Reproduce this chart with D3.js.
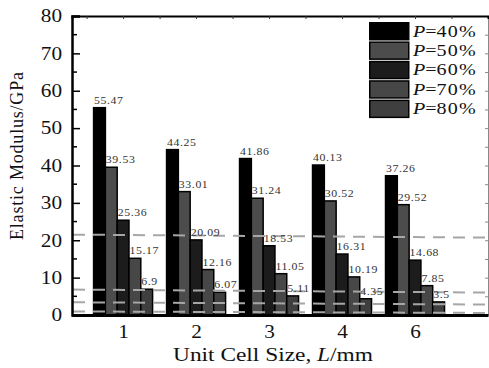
<!DOCTYPE html>
<html>
<head>
<meta charset="utf-8">
<script src="https://cdn.jsdelivr.net/npm/d3@7"></script>
<style>
  html, body { margin: 0; padding: 0; background: #fff; }
  svg { display: block; }
</style>
</head>
<body>
<svg id="chart" width="489" height="368" font-family="Liberation Serif, Times New Roman, serif"></svg>
<script>
// Unit cell sizes (mm) along the x axis
const categories = ["1", "2", "3", "4", "6"];
// Porosity series
const seriesNames = ["40%", "50%", "60%", "70%", "80%"];
const seriesColors = ["#000000", "#4c4c4c", "#1c1c1c", "#474747", "#3f3f3f"];
// Elastic modulus (GPa), one array per porosity
const p40 = [55.47, 44.25, 41.86, 40.13, 37.26];
const p50 = [39.53, 33.01, 31.24, 30.52, 29.52];
const p60 = [25.36, 20.09, 18.53, 16.31, 14.68];
const p70 = [15.17, 12.16, 11.05, 10.19, 7.85];
const p80 = [6.9, 6.07, 5.11, 4.35, 3.5];
const seriesValues = [p40, p50, p60, p70, p80];
// Dashed reference levels (GPa) at the left and right ends of the plot
const refLevels = [[21.5, 20.7], [6.8, 6.0], [3.4, 2.8], [0.95, 0.55]];
const yTicks = [0, 10, 20, 30, 40, 50, 60, 70, 80];

const FONT = "Liberation Serif, Times New Roman, serif";
const svg = d3.select("#chart");
const plotL = 72, plotR = 488, plotT = 16, plotB = 315;

const x = d3.scaleLinear().domain([-0.7, 5]).range([plotL, plotR]);
const y = d3.scaleLinear().domain([0, 80]).range([plotB, plotT]);
const inner = d3.scaleBand().domain(seriesNames).range([-29.5, 29.5]).padding(0);

// Bars
const bars = [];
categories.forEach((c, i) => {
  seriesNames.forEach((s, k) => {
    bars.push({ i, k, v: seriesValues[k][i] });
  });
});

svg.append("g").selectAll("rect").data(bars).join("rect")
  .attr("x", d => x(d.i) + inner(seriesNames[d.k]))
  .attr("y", d => y(d.v))
  .attr("width", inner.bandwidth())
  .attr("height", d => y(0) - y(d.v))
  .attr("fill", d => seriesColors[d.k])
  .attr("stroke", "#000")
  .attr("stroke-width", 1.5);

// Dashed reference lines
svg.append("g").selectAll("line").data(refLevels).join("line")
  .attr("x1", plotL + 1).attr("x2", plotR)
  .attr("y1", d => y(d[0])).attr("y2", d => y(d[1]))
  .attr("stroke", "#a6a6a6")
  .attr("stroke-width", 2)
  .attr("stroke-dasharray", "12,8");

// Value labels
svg.append("g").attr("class", "wide").selectAll("text").data(bars).join("text")
  .attr("x", d => x(d.i) + inner(seriesNames[d.k]) + 0.5)
  .attr("y", d => y(d.v) - 4)
  .attr("font-size", 10)
  .attr("font-family", FONT)
  .attr("fill", "#333")
  .attr("letter-spacing", 0.5)
  .text(d => String(d.v));

// Left axis with inward ticks
const yAxis = d3.axisLeft(y).tickValues(yTicks).tickSize(-8).tickPadding(10).tickFormat(d3.format("d"));
const gy = svg.append("g").attr("class", "wide").attr("transform", `translate(${plotL},0)`).call(yAxis);
gy.select(".domain").attr("stroke-width", 2.5);
gy.selectAll(".tick line").attr("stroke-width", 1.5);
gy.selectAll(".tick text").attr("font-size", 18).attr("font-family", FONT).attr("fill", "#111");
// minor ticks
const minor = d3.range(5, 80, 10);
svg.append("g").selectAll("line").data(minor).join("line")
  .attr("x1", plotL).attr("x2", plotL + 5)
  .attr("y1", d => y(d)).attr("y2", d => y(d))
  .attr("stroke", "#000").attr("stroke-width", 1.5);

// Right axis (thin, light)
const yAxisR = d3.axisRight(y).tickValues(d3.range(0, 81, 5)).tickSize(-3).tickFormat("");
const gyr = svg.append("g").attr("transform", `translate(${plotR},0)`).call(yAxisR);
gyr.select(".domain").attr("stroke", "#888").attr("stroke-width", 1);
gyr.selectAll(".tick line").attr("stroke", "#888");

// Top axis
const xAxisT = d3.axisTop(x).tickValues(d3.range(-0.5, 4.6, 0.5)).tickSize(-3).tickFormat("");
const gxt = svg.append("g").attr("transform", `translate(0,${plotT})`).call(xAxisT);
gxt.select(".domain").attr("stroke-width", 2);
gxt.selectAll(".tick line").attr("stroke", "#333");

// Bottom axis
const xAxisB = d3.axisBottom(x).tickValues(d3.range(categories.length)).tickSize(0).tickPadding(10)
  .tickFormat(i => categories[i]);
const gxb = svg.append("g").attr("class", "wide").attr("transform", `translate(0,${plotB})`).call(xAxisB);
gxb.select(".domain").attr("stroke-width", 3);
gxb.selectAll(".tick text").attr("font-size", 18).attr("font-family", FONT).attr("fill", "#111");

// Axis titles
svg.append("text")
  .attr("transform", "translate(23,156) rotate(-90)")
  .attr("text-anchor", "middle")
  .attr("font-size", 18)
  .attr("font-family", FONT)
  .attr("fill", "#111")
  .attr("textLength", 168).attr("lengthAdjust", "spacing")
  .text("Elastic Modulus/GPa");

const xt = svg.append("text")
  .attr("x", 273).attr("y", 361)
  .attr("text-anchor", "middle")
  .attr("font-size", 18)
  .attr("font-family", FONT)
  .attr("fill", "#111")
  .attr("textLength", 200).attr("lengthAdjust", "spacingAndGlyphs");
xt.append("tspan").text("Unit Cell Size, ");
xt.append("tspan").attr("font-style", "italic").text("L");
xt.append("tspan").text("/mm");

// Legend
const lg = svg.append("g").attr("class", "wide").attr("transform", "translate(369,22)");
const rows = lg.selectAll("g").data(seriesNames).join("g")
  .attr("transform", (d, k) => `translate(0,${k * 19.4})`);
rows.append("rect")
  .attr("x", 0.75).attr("y", 0.75).attr("width", 39).attr("height", 17)
  .attr("fill", (d, k) => seriesColors[k])
  .attr("stroke", "#000").attr("stroke-width", 1.5);
const lt = rows.append("text")
  .attr("x", 44).attr("y", 14.5)
  .attr("font-size", 17)
  .attr("font-family", FONT)
  .attr("fill", "#111");
lt.append("tspan").attr("font-style", "italic").text("P");
lt.append("tspan").text("=");
lt.append("tspan").attr("letter-spacing", 1).text(d => d);

// The typeset figure uses a horizontally widened face: stretch glyphs a little
svg.selectAll(".wide text").each(function () {
  const len = this.getComputedTextLength();
  if (len > 0) {
    d3.select(this).attr("textLength", len * 1.18).attr("lengthAdjust", "spacingAndGlyphs");
  }
});
</script>
</body>
</html>
